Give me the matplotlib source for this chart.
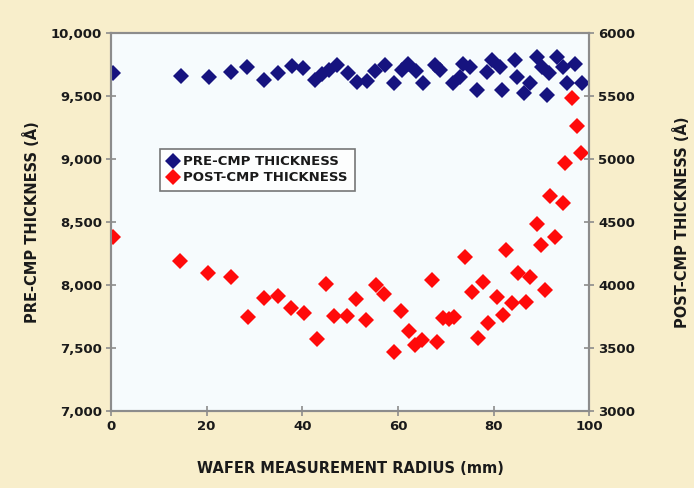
import matplotlib
matplotlib.use("Agg")
import matplotlib.pyplot as plt
from matplotlib.ticker import FuncFormatter, MultipleLocator

# wafer radius (mm) and pre-CMP thickness (A), left axis
pre_radius = [0.5, 14.6, 20.4, 25.0, 28.5, 31.9, 35.0, 37.8, 40.2, 42.7,
              44.1, 45.5, 47.2, 49.6, 51.4, 53.5, 55.2, 57.3, 59.1, 60.8,
              62.2, 63.8, 65.3, 67.8, 68.8, 71.6, 73.0, 73.7, 75.1, 76.5,
              78.6, 79.6, 81.4, 81.7, 84.5, 84.9, 86.3, 87.7, 89.1, 90.1,
              91.2, 91.6, 93.2, 94.6, 95.3, 97.0, 98.5]
pre_thick = [9680, 9659, 9653, 9693, 9733, 9627, 9680, 9738, 9720, 9632,
             9674, 9706, 9746, 9680, 9613, 9621, 9701, 9746, 9601, 9706,
             9759, 9700, 9601, 9746, 9706, 9601, 9653, 9759, 9733, 9547,
             9693, 9786, 9733, 9547, 9786, 9653, 9521, 9601, 9812, 9733,
             9508, 9680, 9812, 9733, 9601, 9759, 9601]

# wafer radius (mm) and post-CMP thickness (A), right axis
post_radius = [0.4, 14.4, 20.3, 25.1, 28.7, 32.0, 35.0, 37.7, 40.4, 43.1,
               45.0, 46.7, 49.4, 51.3, 53.3, 55.5, 57.0, 59.1, 60.7, 62.3,
               63.6, 65.0, 67.2, 68.2, 69.5, 70.6, 71.7, 74.0, 75.5, 76.8,
               77.8, 78.9, 80.8, 82.0, 82.6, 83.9, 85.1, 86.8, 87.7, 89.1,
               90.0, 90.8, 91.8, 92.9, 94.6, 95.0, 96.4, 97.5, 98.3]
post_thick = [4380, 4190, 4095, 4063, 3745, 3896, 3912, 3817, 3777, 3570,
              4007, 3753, 3753, 3888, 3721, 4000, 3930, 3467, 3793, 3634,
              3520, 3560, 4039, 3550, 3740, 3730, 3745, 4222, 3944, 3578,
              4023, 3697, 3904, 3761, 4277, 3856, 4095, 3864, 4063, 4483,
              4317, 3960, 4706, 4380, 4650, 4968, 5484, 5262, 5047]

bg = "#f8eecb"
face = "#f6fbfd"
spine = "#8c8c8c"
navy = "#16137f"
red = "#ff0a0a"

font = dict(family="DejaVu Sans", weight="bold")

fig = plt.figure(figsize=(6.94, 4.88), dpi=100, facecolor=bg)
ax = fig.add_axes([0.160, 0.158, 0.689, 0.774])
ax.set_facecolor(face)
ax2 = ax.twinx()

p1, = ax.plot(pre_radius, pre_thick, linestyle="none", marker="D",
              markersize=8, color=navy, markeredgewidth=0,
              label="PRE-CMP THICKNESS")
p2, = ax2.plot(post_radius, post_thick, linestyle="none", marker="D",
               markersize=8, color=red, markeredgewidth=0,
               label="POST-CMP THICKNESS")

ax.set_xlim(0, 100)
ax.set_ylim(7000, 10000)
ax2.set_ylim(3000, 6000)
ax.xaxis.set_major_locator(MultipleLocator(20))
ax.yaxis.set_major_locator(MultipleLocator(500))
ax2.yaxis.set_major_locator(MultipleLocator(500))
ax.yaxis.set_major_formatter(FuncFormatter(lambda v, p: f"{int(v):,}"))

for a in (ax, ax2):
    for s in a.spines.values():
        s.set_color(spine)
        s.set_linewidth(1.5)
    a.tick_params(direction="inout", length=7, width=1.2, color=spine,
                  labelsize=9.5, pad=3)
    for lab in a.get_xticklabels() + a.get_yticklabels():
        lab.set(**font)
        lab.set_color("#1a1a1a")

ax.set_xlabel("WAFER MEASUREMENT RADIUS (mm)", fontsize=10.5,
              labelpad=20, color="#1a1a1a", **font)
ax.set_ylabel("PRE-CMP THICKNESS (Å)", fontsize=10.5, labelpad=8,
              color="#1a1a1a", **font)
ax2.set_ylabel("POST-CMP THICKNESS (Å)", fontsize=10.5, rotation=90,
               labelpad=27, color="#1a1a1a", **font)

leg = ax.legend(handles=[p1, p2], loc="upper left",
                bbox_to_anchor=(0.088, 0.712), frameon=True, fancybox=False,
                handletextpad=0.3, handlelength=1.0, borderpad=0.5,
                labelspacing=0.25, prop=dict(size=9.5, **font))
leg.get_frame().set_edgecolor("#555555")
leg.get_frame().set_linewidth(1.2)
leg.get_frame().set_facecolor("white")
for t in leg.get_texts():
    t.set_color("#1a1a1a")

fig.savefig("out.png", dpi=100, facecolor=bg)
